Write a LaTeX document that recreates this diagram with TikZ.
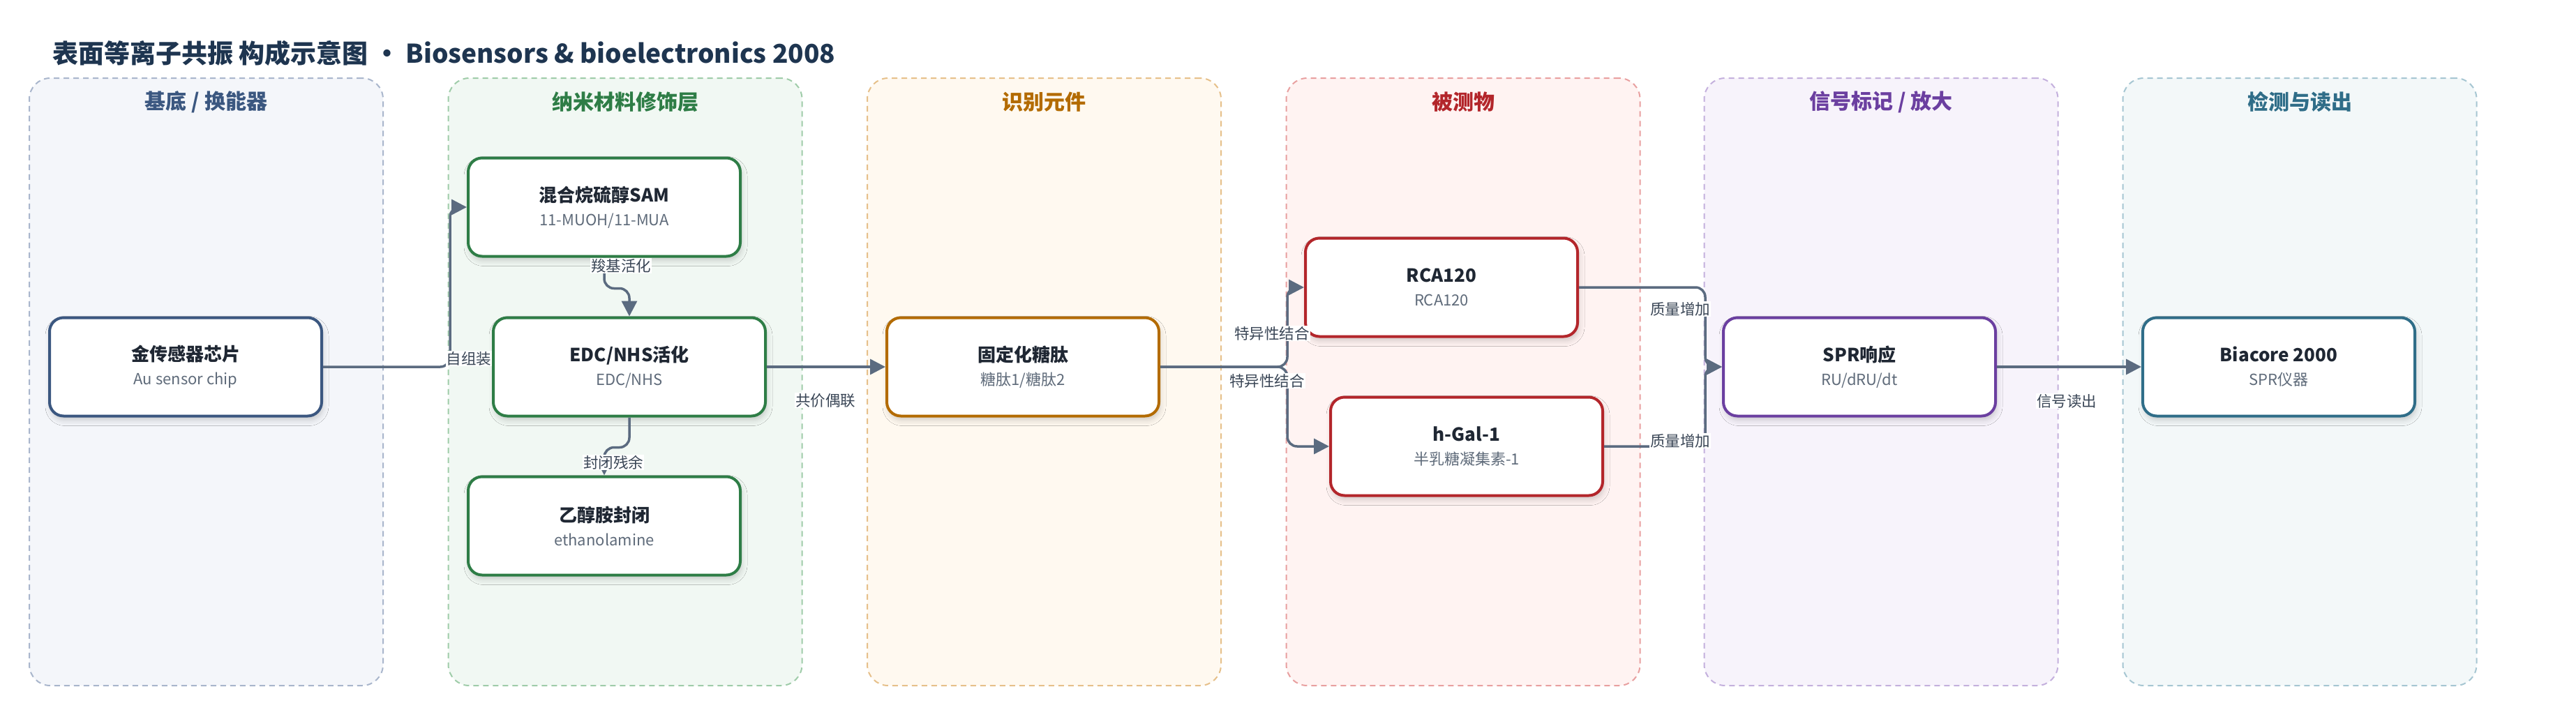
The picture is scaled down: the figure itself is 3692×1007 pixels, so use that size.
\documentclass[tikz,border=0pt]{standalone}
\usepackage{fontspec}
\setmainfont{Noto Sans CJK SC}
\usetikzlibrary{arrows.meta,shadows.blur}
\definecolor{edgec}{HTML}{5B6B80}
\definecolor{titc}{HTML}{1E3550}
\definecolor{txtc}{HTML}{1F2733}
\definecolor{subc}{HTML}{5F6B7A}
\definecolor{lblc}{HTML}{3A4656}
\definecolor{cA}{HTML}{3B5780}\definecolor{fA}{HTML}{F4F6FA}\definecolor{dA}{HTML}{A9B6CC}
\definecolor{cB}{HTML}{2E7D46}\definecolor{fB}{HTML}{F1F8F3}\definecolor{dB}{HTML}{9FCCA9}
\definecolor{cC}{HTML}{B36B00}\definecolor{fC}{HTML}{FFF9F0}\definecolor{dC}{HTML}{E6C08A}
\definecolor{cD}{HTML}{B3262B}\definecolor{fD}{HTML}{FFF3F2}\definecolor{dD}{HTML}{E8A0A0}
\definecolor{cE}{HTML}{6B3FA0}\definecolor{fE}{HTML}{F7F3FB}\definecolor{dE}{HTML}{C4B0DD}
\definecolor{cF}{HTML}{2F6D88}\definecolor{fF}{HTML}{F3F8F9}\definecolor{dF}{HTML}{A6C6D2}
\tikzset{
  lane/.style={draw=#1, dashed, dash pattern=on 8pt off 6pt, line width=2pt, rounded corners=30pt,
    minimum width=507pt, minimum height=871pt, inner sep=0pt},
  lanetitle/.style={font=\fontsize{30}{36}\selectfont\bfseries, text=#1},
  box/.style={draw=#1, fill=white, line width=4pt, rounded corners=20pt,
    minimum width=390pt, minimum height=141pt, align=center, text=txtc,
    font=\fontsize{26}{34}\selectfont,
    blur shadow={shadow xshift=2pt, shadow yshift=-6pt, shadow opacity=18, shadow blur radius=8pt}},
  edge/.style={draw=edgec, line width=3.5pt, rounded corners=14pt,
    -{Triangle[length=22pt,width=22pt]}},
  elabel/.style={fill=white, inner sep=1pt, text=lblc, font=\fontsize{21.5}{26}\selectfont},
}
\newcommand{\two}[2]{{\bfseries #1}\\{\fontsize{22}{34}\selectfont\color{subc}#2}}
\begin{document}
\begin{tikzpicture}[x=1pt,y=-1pt]
\useasboundingbox[fill=white] (0,0) rectangle (3692,1007);
% title
\node[anchor=west, text=titc, font=\fontsize{37}{44}\selectfont\bfseries, inner sep=0pt] (title) at (75,76)
  {表面等离子共振 构成示意图 • Biosensors \& bioelectronics 2008};
% lanes
\node[lane=dA, fill=fA] (L1) at (295.5,547.5) {};
\node[lane=dB, fill=fB] (L2) at (896,547.5) {};
\node[lane=dC, fill=fC] (L3) at (1496.5,547.5) {};
\node[lane=dD, fill=fD] (L4) at (2097,547.5) {};
\node[lane=dE, fill=fE] (L5) at (2696,547.5) {};
\node[lane=dF, fill=fF] (L6) at (3296,547.5) {};
\node[lanetitle=cA] (T1) at (295.5,146) {基底 / 换能器};
\node[lanetitle=cB] (T2) at (896,146) {纳米材料修饰层};
\node[lanetitle=cC] (T3) at (1496.5,146) {识别元件};
\node[lanetitle=cD] (T4) at (2097,146) {被测物};
\node[lanetitle=cE] (T5) at (2696,146) {信号标记 / 放大};
\node[lanetitle=cF] (T6) at (3296,146) {检测与读出};
% nodes
\node[box=cA] (au) at (266,526) {\two{金传感器芯片}{Au sensor chip}};
\node[box=cB] (sam) at (866,297) {\two{混合烷硫醇SAM}{11-MUOH/11-MUA}};
\node[box=cB] (edc) at (902,526) {\two{EDC/NHS活化}{EDC/NHS}};
\node[box=cB] (eth) at (866,754) {\two{乙醇胺封闭}{ethanolamine}};
\node[box=cC] (gly) at (1466,526) {\two{固定化糖肽}{糖肽1/糖肽2}};
\node[box=cD] (rca) at (2066,412) {\two{RCA120}{RCA120}};
\node[box=cD] (hgal) at (2102,640) {\two{h-Gal-1}{半乳糖凝集素-1}};
\node[box=cE] (spr) at (2665,526) {\two{SPR响应}{RU/dRU/dt}};
\node[box=cF] (bia) at (3266,526) {\two{Biacore 2000}{SPR仪器}};
% edges
\draw[edge] (au.east) -- ++(182,0) |- (sam.west);
\draw[edge] (sam.south) -- ++(0,44) -| (edc.north);
\draw[edge] (edc.south) -- ++(0,43) -| (eth.north);
\draw[edge] (edc.east) -- (gly.west);
\draw[edge] (gly.east) -- ++(182,0) |- (rca.west);
\draw[edge] (gly.east) -- ++(182,0) |- (hgal.west);
\draw[edge] (rca.east) -- ++(181,0) |- (spr.west);
\draw[edge] (hgal.east) -- ++(145,0) |- (spr.west);
\draw[edge] (spr.east) -- (bia.west);
% edge labels
\node[elabel] (l1) at (672,514) {自组装};
\node[elabel] (l2) at (890,381) {羧基活化};
\node[elabel] (l3) at (879,663) {封闭残余};
\node[elabel] (l4) at (1183,574) {共价偶联};
\node[elabel] (l5) at (1823,478) {特异性结合};
\node[elabel] (l6) at (1816,546) {特异性结合};
\node[elabel] (l7) at (2408,443) {质量增加};
\node[elabel] (l8) at (2408,632) {质量增加};
\node[elabel] (l9) at (2962,575) {信号读出};
\end{tikzpicture}
\end{document}
